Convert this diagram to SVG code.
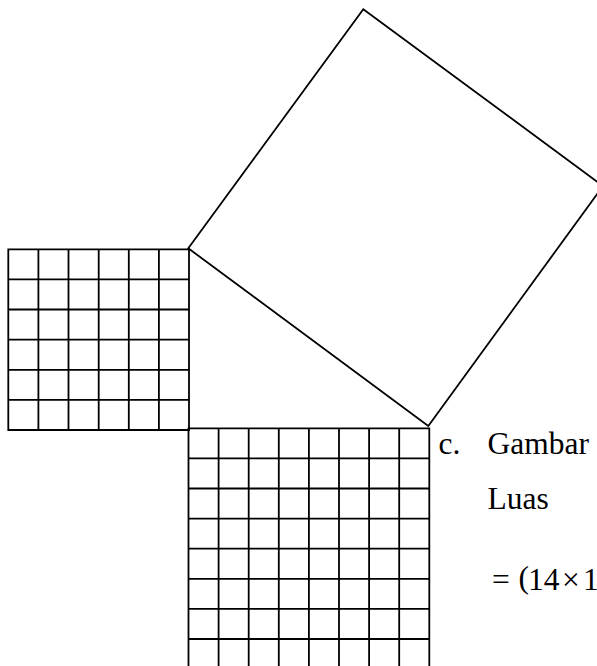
<svg xmlns="http://www.w3.org/2000/svg" width="597" height="666" viewBox="0 0 597 666">
<style>
.ln{fill:none;stroke:#000;stroke-width:1.8;stroke-linejoin:miter}
.tx{font-family:"Liberation Serif","Times New Roman",serif;font-size:31.5px;fill:#000}
</style>
<rect width="597" height="666" fill="#fff"/>
<g id="square-a">
<path class="ln" d="M8.3,249.3H189V430H8.3Z M38.4,249.3V430 M68.5,249.3V430 M98.7,249.3V430 M128.8,249.3V430 M158.9,249.3V430 M8.3,279.4H189 M8.3,309.5H189 M8.3,339.7H189 M8.3,369.8H189 M8.3,399.9H189"/>
</g>
<g id="square-b">
<path class="ln" d="M188.5,428.3H429.3V669.1H188.5Z M218.6,428.3V669 M248.7,428.3V669 M278.8,428.3V669 M308.9,428.3V669 M339,428.3V669 M369.1,428.3V669 M399.2,428.3V669 M188.5,458.4H429.3 M188.5,488.5H429.3 M188.5,518.6H429.3 M188.5,548.7H429.3 M188.5,578.8H429.3 M188.5,608.9H429.3 M188.5,639H429.3"/>
</g>
<g id="square-c">
<polygon class="ln" points="188.3,248.3 363.3,9.3 603,186 428.3,426"/>
</g>
<g id="connectors"></g>
<g id="text">
<text class="tx" x="438.5" y="454">c.</text>
<text class="tx" x="487.5" y="454">Gambar</text>
<text class="tx" x="487.5" y="509">Luas</text>
<text class="tx" x="492" y="590">=</text>
<text class="tx" x="518.5" y="588" font-size="38">(</text>
<text class="tx" x="528" y="590" font-size="30">14</text>
<text class="tx" x="562" y="590" font-size="32">×</text>
<text class="tx" x="583" y="590" font-size="30">1</text>
</g>
</svg>
